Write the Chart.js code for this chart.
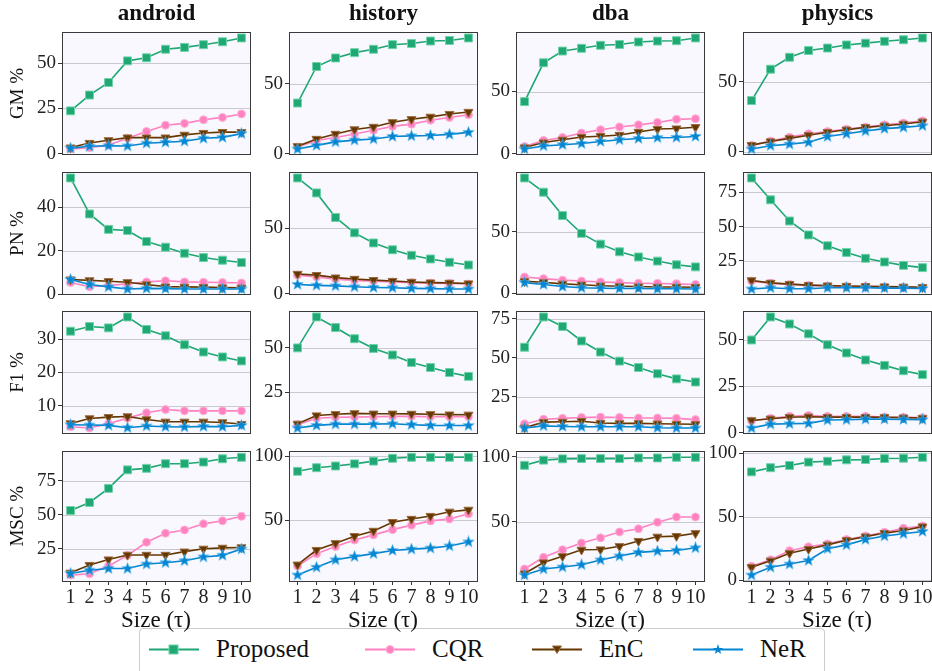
<!DOCTYPE html>
<html>
<head>
<meta charset="utf-8">
<script src="https://cdn.jsdelivr.net/npm/chart.js@4"></script>
<style>
  body { margin: 0; background: #fff; width: 932px; height: 671px; position: relative; overflow: hidden; font-family: "Liberation Serif", serif; color: #111; }
  .coltitle { position: absolute; top: 0; width: 189px; text-align: center; font-weight: bold; font-size: 23px; }
  #legend { position: absolute; left: 139px; top: 628px; width: 686px; height: 52px; border: 1px solid #ccc; border-radius: 4px; box-sizing: border-box; }
  .item { position: absolute; top: 0; height: 40px; display: flex; align-items: center; font-size: 25px; }
  .item svg { margin-right: 17px; }
</style>
</head>
<body>
<div id="legend"></div>
<script>
// x axis / panel labels
const sizes = [1, 2, 3, 4, 5, 6, 7, 8, 9, 10];
const domains = ['android', 'history', 'dba', 'physics'];
const metrics = ['GM %', 'PN %', 'F1 %', 'MSC %'];
const methods = ['Proposed', 'CQR', 'EnC', 'NeR'];

// each array: one row per domain (android, history, dba, physics)
const gmProposed = [[23.7,32.4,39.3,51.2,52.9,57.6,58.6,60.1,61.7,63.8],[36.4,62.5,68.6,72.4,74.8,78.1,78.9,80.7,81.1,82.9],[41.9,73,82.4,84.6,87,87.7,89.7,90.4,90.7,92.9],[36.4,58.8,67.3,72.1,73.9,76.1,77.4,78.7,79.8,81.1]];
const gmCQR = [[2.7,3.4,4.9,8.6,12.4,15.8,16.8,18.8,20.1,22],[5,9.6,11.8,14.3,16.9,19.7,21.3,24.1,26.1,28],[5.9,10.8,13.2,16.7,19.4,21.6,23.3,25.2,27.7,28.2],[4.4,7.5,10.3,12.7,14.3,16,17.5,19.1,20.4,21.9]];
const gmEnC = [[3.5,6,7.5,9,9,9,10.5,11.5,12,12],[5.5,10.7,14.3,17.5,19.3,22.6,24.8,26.5,28.5,30],[5.1,9.1,11.3,13.5,14.2,15.2,17.6,19.9,20.3,21.4],[4.6,7.2,9.4,11.6,13.8,15.6,17.3,18.4,19.7,21.3]];
const gmNeR = [[3.2,4.2,4.5,4.4,5.9,6.4,7,8.6,9.1,11.2],[3.5,6.1,8.6,9.9,10.7,12.5,12.9,13.2,14,15.4],[3.9,6.4,7.4,8.3,10,11.3,12.3,13,13.2,14],[1.8,4.2,5.3,6.6,10.7,12.7,14.7,16.4,17.3,18.4]];

const pnProposed = [[53.6,37,29.9,29.4,24.3,21.7,18.9,16.9,15.7,14.6],[88.3,76.9,58.2,46.5,38.8,33.6,29.4,26.6,24.1,22],[93.3,81.8,62.9,48.5,39.8,33.6,29.4,26.1,23.1,21.4],[85.6,69.6,54.1,43.9,36,31.1,26.8,24.1,21.6,20]];
const pnCQR = [[5.4,3.5,4.0,4.8,5.7,6.2,5.7,5.5,5.4,5.2],[14.3,12.9,11.2,10.3,9.6,9.1,8.6,8.2,7.9,7.5],[13.2,11.9,10.7,10,9.2,8.7,8.2,8,7.7,7.2],[10.1,8.6,7.7,7,6.5,6.3,6.1,5.9,5.6,5.4]];
const pnEnC = [[6.8,6.4,6,5.5,4.5,3.5,3.4,3.3,3.1,3.0],[15.2,14.3,12.4,11.4,10.5,9.8,9.1,8.6,8.4,7.9],[9.7,9,7.7,7,6.2,5.7,5.5,5.2,5.2,5],[10.6,8.8,7.9,7.2,6.8,6.5,6.3,6.1,5.9,5.6]];
const pnNeR = [[6.8,4.5,3.4,2.4,2.7,2.6,2.4,2.4,2.4,2.4],[7.2,6.5,6.1,5.4,4.9,4.7,4.2,4,3.7,3.7],[8.7,7.2,5.5,4.5,4.2,4,4,3.7,3.7,3.5],[4.3,5.2,4.5,4.5,5.2,5.2,5.2,5,5,4.7]];

const f1Proposed = [[32.5,33.9,33.5,36.8,33,31.1,28.4,26.2,24.7,23.5],[50,67.5,61.5,55.2,49.7,46,41.8,38.9,36.1,33.9],[56.8,76.2,70.1,60.8,53.7,47.9,43.8,39.8,36.5,34.5],[50,62.4,58.6,53.3,47.4,43,39.2,36.3,33.4,31.3]];
const f1CQR = [[3.6,3.2,4.5,6.2,7.8,8.8,8.4,8.4,8.4,8.4],[6.6,10.2,10.8,10.9,11.1,11.3,11.3,11.1,11.1,11.1],[7.6,10.6,11.2,11.8,12,11.8,11.4,11.4,11.2,10.4],[6.3,7.8,8.9,9.3,8.8,8.8,8.8,8.4,8.3,8.1]];
const f1EnC = [[4.6,6.1,6.5,6.7,5.8,5.1,5.1,5.1,4.9,4.4],[7.1,11.8,12.5,13,12.8,12.8,12.7,12.5,12.3,12.2],[5.2,8.8,9,9.4,8.2,8,8,7.8,7.6,7.4],[6.6,7.5,8.3,8.6,8.4,8.4,8.4,8.3,8.1,7.9]];
const f1NeR = [[4.2,4.1,4,3.3,3.8,3.6,3.5,3.7,3.6,4],[4.7,6.2,6.9,6.9,6.9,7.1,6.6,6.2,6.1,6.1],[5,6.4,6,5.8,5.8,5.8,5.8,5.2,5,5],[2.5,4.6,4.8,5,6.8,7,7.3,7.3,7.1,7]];

const mscProposed = [[53.1,59,69.3,82.9,84,87.4,87.4,88.6,91,92.1],[88.1,90.9,92.2,93.9,96,98.2,99,99,99,99],[93.3,97.3,98.3,98.5,98.5,98.5,99,99,99.5,99.5],[85.4,88.7,90.5,93.1,93.8,94.9,95.1,95.9,96.2,96.9]];
const mscCQR = [[5.7,6.7,12.4,20.2,29.8,36.4,38.8,43.3,45.5,48.8],[14.4,24,29.5,34.6,38.6,42.7,46.2,49.5,51,55],[13.5,22.5,28.3,33.5,37.5,42,44.5,49.5,53.5,53.5],[11,16.2,23.3,26.4,28.7,32.1,34.9,37.9,41,42.8]];
const mscEnC = [[7.4,13.1,17.1,20.5,20.5,20.5,22.9,25,25.7,26],[15.4,26.8,32.1,37.6,41.7,48.5,51,53.3,56.6,58.1],[10,18.5,23.3,28.3,28.5,31,35,38.3,38.8,41],[10.3,15.4,21.3,24.6,27.9,31.5,34.4,37.2,39.2,42.3]];
const mscNeR = [[6.9,9.3,10.5,10.5,13.8,14.8,16.2,19,20.2,24.8],[7.3,13.4,19.2,21.7,24,26.5,27.5,28.3,30,33.1],[8.8,13.5,15,16.8,20.5,23.5,26.3,27.3,27.8,29.8],[4.1,10.3,12.8,15.6,24.9,27.9,32.1,34.9,36.7,38.5]];

// y tick labels per panel
const gmTicks = [[0,25,50],[0,50],[0,50],[0,50]];
const pnTicks = [[0,20,40],[0,50],[0,50],[25,50,75]];
const f1Ticks = [[10,20,30],[25,50],[25,50,75],[0,25,50]];
const mscTicks = [[25,50,75],[50,100],[50,100],[0,50,100]];

const rowData = [
    [gmProposed, gmCQR, gmEnC, gmNeR],
    [pnProposed, pnCQR, pnEnC, pnNeR],
    [f1Proposed, f1CQR, f1EnC, f1NeR],
    [mscProposed, mscCQR, mscEnC, mscNeR]
];
const rowTicks = [gmTicks, pnTicks, f1Ticks, mscTicks];

const colors = ['#1fa774', '#ff81c0', '#653700', '#0485d1'];
const edges = ['#6fd3a8', '#ffb3d9', '#9a6a3c', '#5ab8ec'];
const FONT = '"Liberation Serif", serif';

// panel geometry
const colLeft = [62, 289, 516, 743];
const rowTop = [29, 169, 308, 448];
const PW = 189, PH = 133, AXW = 62, PADT = 10, PADR = 6, XH = 54;

function makeStar(color, edge) {
    const c = document.createElement('canvas');
    c.width = 13; c.height = 13;
    const g = c.getContext('2d');
    g.beginPath();
    for (let i = 0; i < 10; i++) {
        const r = i % 2 === 0 ? 6 : 2.5;
        const a = -Math.PI / 2 + i * Math.PI / 5;
        g.lineTo(6.5 + r * Math.cos(a), 6.5 + r * Math.sin(a));
    }
    g.closePath();
    g.fillStyle = color;
    g.fill();
    g.strokeStyle = edge;
    g.lineWidth = 0.6;
    g.stroke();
    return c;
}
const star = makeStar(colors[3], edges[3]);

const styles = [
    { pointStyle: 'rect', pointRadius: 5.6, rotation: 0 },
    { pointStyle: 'circle', pointRadius: 4, rotation: 0 },
    { pointStyle: 'triangle', pointRadius: 5.2, rotation: 180 },
    { pointStyle: star, pointRadius: 6, rotation: 0 }
];

const panelFrame = {
    id: 'panelFrame',
    beforeDatasetsDraw(chart) {
        const a = chart.chartArea, ctx = chart.ctx;
        ctx.save();
        ctx.fillStyle = '#f8f8fe';
        ctx.fillRect(a.left, a.top, a.right - a.left, a.bottom - a.top);
        // grid lines at the y ticks, over the fill
        const y = chart.scales.y;
        ctx.strokeStyle = '#c9c9cf';
        ctx.lineWidth = 1;
        y.ticks.forEach(t => {
            const py = Math.round(y.getPixelForValue(t.value)) + 0.5;
            ctx.beginPath(); ctx.moveTo(a.left, py); ctx.lineTo(a.right, py); ctx.stroke();
        });
        ctx.restore();
    },
    afterDraw(chart) {
        const a = chart.chartArea, ctx = chart.ctx;
        ctx.save();
        ctx.strokeStyle = '#3a3a3a';
        ctx.lineWidth = 1;
        ctx.strokeRect(Math.round(a.left) + 0.5, Math.round(a.top) + 0.5, Math.round(a.right - a.left), Math.round(a.bottom - a.top));
        ctx.restore();
    }
};

for (let r = 0; r < 4; r++) {
    for (let c = 0; c < 4; c++) {
        const series = rowData[r].map(arr => arr[c]);
        const all = series.flat();
        const lo = Math.min(...all), hi = Math.max(...all);
        const m = (hi - lo) * 0.05;
        const bottomRow = r === 3;

        const w = AXW + PW + PADR, h = PADT + PH + (bottomRow ? XH : 6);
        const box = document.createElement('div');
        box.style.cssText = `position:absolute;left:${colLeft[c] - AXW}px;top:${rowTop[r] - PADT}px;width:${w}px;height:${h}px;`;
        const cv = document.createElement('canvas');
        box.appendChild(cv);
        document.body.appendChild(box);

        new Chart(cv.getContext('2d'), {
            type: 'line',
            data: {
                datasets: methods.map((name, k) => ({
                    label: name,
                    data: sizes.map((s, i) => ({ x: s, y: series[k][i] })),
                    borderColor: colors[k],
                    backgroundColor: colors[k],
                    pointBackgroundColor: colors[k],
                    pointBorderColor: edges[k],
                    pointBorderWidth: 1,
                    pointStyle: styles[k].pointStyle,
                    pointRadius: styles[k].pointRadius,
                    rotation: styles[k].rotation,
                    borderWidth: 1.6,
                    tension: 0,
                    order: 4 - k
                }))
            },
            options: {
                responsive: true,
                maintainAspectRatio: false,
                animation: false,
                devicePixelRatio: 1,
                layout: { padding: { top: PADT, right: PADR, left: 0, bottom: bottomRow ? 0 : 6 } },
                plugins: { legend: { display: false }, tooltip: { enabled: false } },
                scales: {
                    x: {
                        type: 'linear',
                        min: 0.55,
                        max: 10.45,
                        display: bottomRow,
                        afterBuildTicks: s => { s.ticks = sizes.map(v => ({ value: v })); },
                        afterFit: s => { if (bottomRow) s.height = XH; },
                        ticks: { font: { family: FONT, size: 20 }, color: '#222', padding: 1, maxRotation: 0, autoSkip: false },
                        grid: { drawOnChartArea: false, tickLength: 4, tickColor: '#333' },
                        border: { display: false },
                        title: { display: true, text: 'Size (τ)', font: { family: FONT, size: 23 }, color: '#111', padding: { top: 0, bottom: 0 } }
                    },
                    y: {
                        type: 'linear',
                        min: lo - m,
                        max: hi + m,
                        afterBuildTicks: s => { s.ticks = rowTicks[r][c].map(v => ({ value: v })); },
                        afterFit: s => { s.width = AXW; },
                        ticks: { font: { family: FONT, size: 19 }, color: '#222', padding: 2 },
                        grid: { drawOnChartArea: false, tickLength: 4, tickColor: '#333' },
                        border: { display: false },
                        title: { display: c === 0, text: metrics[r], font: { family: FONT, size: 19 }, color: '#111', padding: { top: 7, bottom: 2 } }
                    }
                }
            },
            plugins: [panelFrame]
        });
    }
}

// column titles
domains.forEach((d, c) => {
    const t = document.createElement('div');
    t.className = 'coltitle';
    t.style.left = colLeft[c] + 'px';
    t.textContent = d;
    document.body.appendChild(t);
});

// legend
const legend = document.getElementById('legend');
const itemX = [9, 225, 392, 553];
const markerSvg = [
    k => `<rect x="20" y="3" width="9" height="9" fill="${colors[k]}" stroke="${edges[k]}"/>`,
    k => `<circle cx="25" cy="7.5" r="4" fill="${colors[k]}" stroke="${edges[k]}"/>`,
    k => `<polygon points="20.5,4 29.5,4 25,11.5" fill="${colors[k]}" stroke="${edges[k]}"/>`,
    k => `<polygon points="25,2 26.3,5.9 30.2,5.9 27.1,8.3 28.2,12.1 25,9.8 21.8,12.1 22.9,8.3 19.8,5.9 23.7,5.9" fill="${colors[k]}"/>`
];
methods.forEach((name, k) => {
    const it = document.createElement('div');
    it.className = 'item';
    it.style.left = itemX[k] + 'px';
    it.innerHTML = `<svg width="50" height="15"><line x1="0" y1="7.5" x2="50" y2="7.5" stroke="${colors[k]}" stroke-width="2"/>${markerSvg[k](k)}</svg><span>${name}</span>`;
    legend.appendChild(it);
});
</script>
</body>
</html>
